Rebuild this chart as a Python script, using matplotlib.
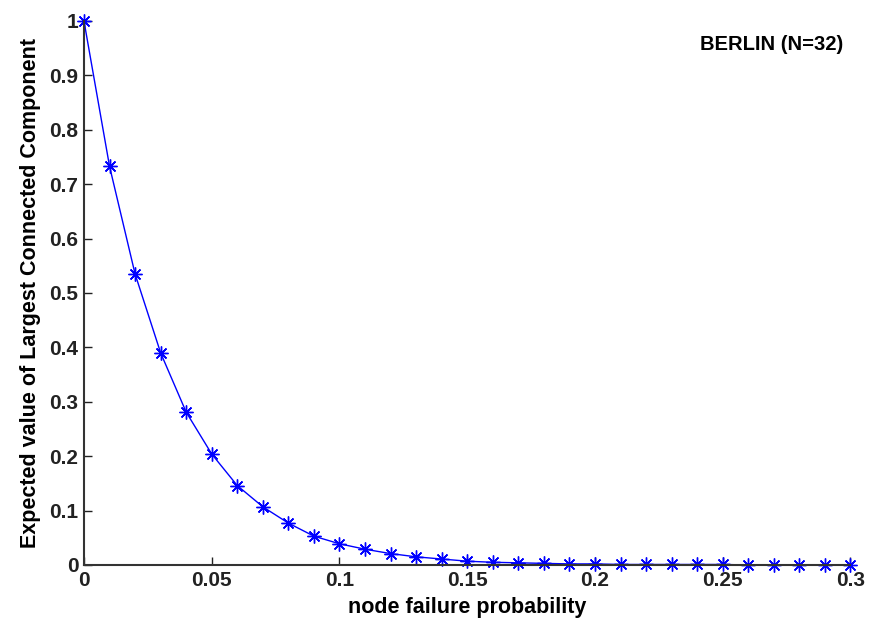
import matplotlib.pyplot as plt
import numpy as np

plt.rcParams['font.family'] = ['Liberation Sans Narrow', 'Liberation Sans', 'DejaVu Sans']
plt.rcParams['font.weight'] = 'bold'

# node failure probability vs expected largest connected component
p = [0.00, 0.01, 0.02, 0.03, 0.04, 0.05, 0.06, 0.07, 0.08, 0.09, 0.10,
     0.11, 0.12, 0.13, 0.14, 0.15, 0.16, 0.17, 0.18, 0.19, 0.20,
     0.21, 0.22, 0.23, 0.24, 0.25, 0.26, 0.27, 0.28, 0.29, 0.30]
lcc = [1.000, 0.733, 0.535, 0.390, 0.281, 0.204, 0.146, 0.107, 0.077, 0.053, 0.039,
       0.029, 0.021, 0.015, 0.011, 0.007, 0.005, 0.004, 0.003, 0.002, 0.002,
       0.001, 0.001, 0.001, 0.001, 0.001, 0.000, 0.000, 0.000, 0.000, 0.000]

xticks = [0, 0.05, 0.1, 0.15, 0.2, 0.25, 0.3]
xticklabels = ['0', '0.05', '0.1', '0.15', '0.2', '0.25', '0.3']
yticks = [0, 0.1, 0.2, 0.3, 0.4, 0.5, 0.6, 0.7, 0.8, 0.9, 1]
yticklabels = ['0', '0.1', '0.2', '0.3', '0.4', '0.5', '0.6', '0.7', '0.8', '0.9', '1']

fig = plt.figure(figsize=(8.72, 6.25), dpi=100)
ax = fig.add_axes([0.0963, 0.096, 0.879, 0.8704])

ax.plot(p, lcc, color='#0000ff', linewidth=1, marker=(8, 2, 0),
        markersize=10, markeredgewidth=1.0, clip_on=False)

ax.set_xlim(0, 0.3)
ax.set_ylim(0, 1)
ax.set_xticks(xticks)
ax.set_xticklabels(xticklabels)
ax.set_yticks(yticks)
ax.set_yticklabels(yticklabels)
ax.tick_params(direction='in', length=6, width=1, labelsize=15, colors='#222222', pad=4)

for side in ['top', 'right']:
    ax.spines[side].set_visible(False)
for side in ['left', 'bottom']:
    ax.spines[side].set_linewidth(1.5)
    ax.spines[side].set_color('#333333')

ax.set_xlabel('node failure probability', fontsize=15.5, fontweight='bold', labelpad=5)
ax.set_ylabel('Expected value of Largest Connected Component', fontsize=15.5,
              fontweight='bold', labelpad=6)

ax.text(0.99, 0.956, 'BERLIN (N=32)', transform=ax.transAxes, fontsize=14.5,
        fontweight='bold', ha='right', va='center')

fig.savefig('out.png', dpi=100)
